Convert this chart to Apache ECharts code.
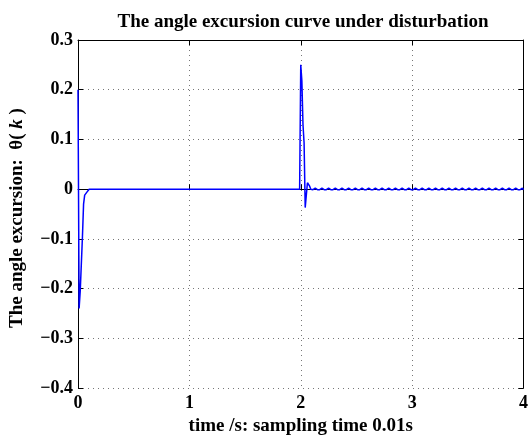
<!DOCTYPE html>
<html>
<head>
<meta charset="utf-8">
<script src="https://cdn.jsdelivr.net/npm/echarts@6/dist/echarts.min.js"></script>
<style>html,body{margin:0;padding:0;background:#fff}#c{width:531px;height:441px}</style>
</head>
<body>
<div id="c"></div>
<script>
// Start-up transient (t in s, theta in rad)
const startT = [0, 0.01, 0.02, 0.03, 0.04, 0.05, 0.06, 0.07, 0.08, 0.09, 0.10];
const startV = [0.2, -0.24, -0.205, -0.205, -0.095, -0.03, -0.012, -0.012, -0.006, -0.002, 0];
// Quiet segment
const flatT = [1.99];
const flatV = [0];
// Disturbance response at t = 2 s
const kickT = [2.00, 2.01, 2.02, 2.03, 2.04, 2.05, 2.06, 2.07, 2.08, 2.09];
const kickV = [0.25, 0.218, 0.13, 0.093, -0.037, -0.035, 0.013, 0.015, 0.006, 0.0];
// Residual ripple from 2.10 s to 4.00 s, sampling 0.01 s
const rippleStart = 2.10;
const sampleTime = 0.01;
const rippleV = [
 0.002,-0.001,-0.001, 0.002,-0.001,-0.001, 0.002,-0.001,-0.001, 0.002,-0.001,-0.001,
 0.002,-0.001,-0.001, 0.002,-0.001,-0.001, 0.002,-0.001,-0.001, 0.002,-0.001,-0.001,
 0.002,-0.001,-0.001, 0.002,-0.001,-0.001, 0.002,-0.001,-0.001, 0.002,-0.001,-0.001,
 0.002,-0.001,-0.001, 0.002,-0.001,-0.001, 0.002,-0.001,-0.001, 0.002,-0.001,-0.001,
 0.002,-0.001,-0.001, 0.002,-0.001,-0.001, 0.002,-0.001,-0.001, 0.002,-0.001,-0.001,
 0.002,-0.001,-0.001, 0.002,-0.001,-0.001, 0.002,-0.001,-0.001, 0.002,-0.001,-0.001,
 0.002,-0.001,-0.001, 0.002,-0.001,-0.001, 0.002,-0.001,-0.001, 0.002,-0.001,-0.001,
 0.002,-0.001,-0.001, 0.002,-0.001,-0.001, 0.002,-0.001,-0.001, 0.002,-0.001,-0.001,
 0.002,-0.001,-0.001, 0.002,-0.001,-0.001, 0.002,-0.001,-0.001, 0.002,-0.001,-0.001,
 0.002,-0.001,-0.001, 0.002,-0.001,-0.001, 0.002,-0.001,-0.001, 0.002,-0.001,-0.001,
 0.002,-0.001,-0.001, 0.002,-0.001,-0.001, 0.002,-0.001,-0.001, 0.002,-0.001,-0.001,
 0.002,-0.001,-0.001, 0.002,-0.001,-0.001, 0.002,-0.001,-0.001, 0.002,-0.001,-0.001,
 0.002,-0.001,-0.001, 0.002,-0.001,-0.001, 0.002,-0.001,-0.001, 0.002,-0.001,-0.001,
 0.002,-0.001,-0.001, 0.002,-0.001,-0.001, 0.002,-0.001,-0.001, 0.002,-0.001,-0.001,
 0.002,-0.001,-0.001, 0.002,-0.001,-0.001, 0.002,-0.001,-0.001, 0.002,-0.001,-0.001,
 0.002,-0.001,-0.001, 0.002,-0.001,-0.001, 0.002,-0.001,-0.001, 0.002,-0.001
];
const xTicks = [0, 1, 2, 3, 4];
const yTicks = [-0.4, -0.3, -0.2, -0.1, 0, 0.1, 0.2, 0.3];

const data = [];
startT.forEach((t, i) => data.push([t, startV[i]]));
flatT.forEach((t, i) => data.push([t, flatV[i]]));
kickT.forEach((t, i) => data.push([t, kickV[i]]));
rippleV.forEach((v, i) => data.push([+(rippleStart + i * sampleTime).toFixed(2), v]));

const FONT = 'Liberation Serif';
const FS = 18;   // tick labels
const NS = 19;   // title and axis names
const lbl = {fontFamily: FONT, fontWeight: 'bold', fontSize: FS, color: '#000'};
const fmtY = v => Math.abs(v) < 1e-9 ? '0' : v.toFixed(1).replace('-', '\u2212');

const chart = echarts.init(document.getElementById('c'), null, {renderer: 'canvas'});
chart.setOption({
  animation: false,
  backgroundColor: '#fff',
  title: {
    text: 'The angle excursion curve under disturbation',
    left: 298, top: 8, textAlign: 'center',
    textStyle: {fontFamily: FONT, fontWeight: 'bold', fontSize: NS, color: '#000'}
  },
  grid: {left: 77.5, right: 3, top: 40, bottom: 46, containLabel: false},
  xAxis: [{
    type: 'value', min: xTicks[0], max: xTicks[xTicks.length - 1], interval: 1,
    name: 'time /s: sampling time 0.01s', nameLocation: 'middle', nameGap: 27,
    nameTextStyle: {fontFamily: FONT, fontWeight: 'bold', fontSize: NS, color: '#000'},
    axisLine: {show: true, lineStyle: {color: '#000', width: 1}},
    axisTick: {show: true, inside: true, length: 5, lineStyle: {color: '#000'}},
    axisLabel: Object.assign({margin: 6, formatter: v => String(v)}, lbl),
    splitLine: {show: true, lineStyle: {color: '#777', type: [1, 4], width: 1}}
  }, {
    type: 'value', position: 'top', min: xTicks[0], max: xTicks[xTicks.length - 1], interval: 1,
    axisLine: {show: true, onZero: false, lineStyle: {color: '#000', width: 1}},
    axisTick: {show: true, inside: true, length: 5, lineStyle: {color: '#000'}},
    axisLabel: {show: false}, splitLine: {show: false}
  }],
  yAxis: [{
    type: 'value', min: yTicks[0], max: yTicks[yTicks.length - 1], interval: 0.1,
    name: '{b|The angle excursion:  \u03b8( }{i|k}{b| )}', nameLocation: 'middle', nameGap: 51,
    nameRotate: 90,
    nameTextStyle: {padding: [0, 8, 0, 0], rich: {
      b: {fontFamily: FONT, fontWeight: 'bold', fontSize: NS, color: '#000'},
      i: {fontFamily: FONT, fontWeight: 'bold', fontStyle: 'italic', fontSize: NS, color: '#000'}
    }},
    axisLine: {show: true, onZero: false, lineStyle: {color: '#000', width: 1}},
    axisTick: {show: true, inside: true, length: 5, lineStyle: {color: '#000'}},
    axisLabel: Object.assign({margin: 5, formatter: fmtY}, lbl),
    splitLine: {show: true, lineStyle: {color: '#777', type: [1, 4], width: 1}}
  }, {
    type: 'value', position: 'right', min: yTicks[0], max: yTicks[yTicks.length - 1], interval: 0.1,
    axisLine: {show: true, onZero: false, lineStyle: {color: '#000', width: 1}},
    axisTick: {show: true, inside: true, length: 5, lineStyle: {color: '#000'}},
    axisLabel: {show: false}, splitLine: {show: false}
  }],
  series: [{
    type: 'line', data: data, xAxisIndex: 0, yAxisIndex: 0,
    showSymbol: false, symbol: 'none',
    lineStyle: {color: '#0000ff', width: 1.5},
    clip: true
  }]
});
</script>
</body>
</html>
